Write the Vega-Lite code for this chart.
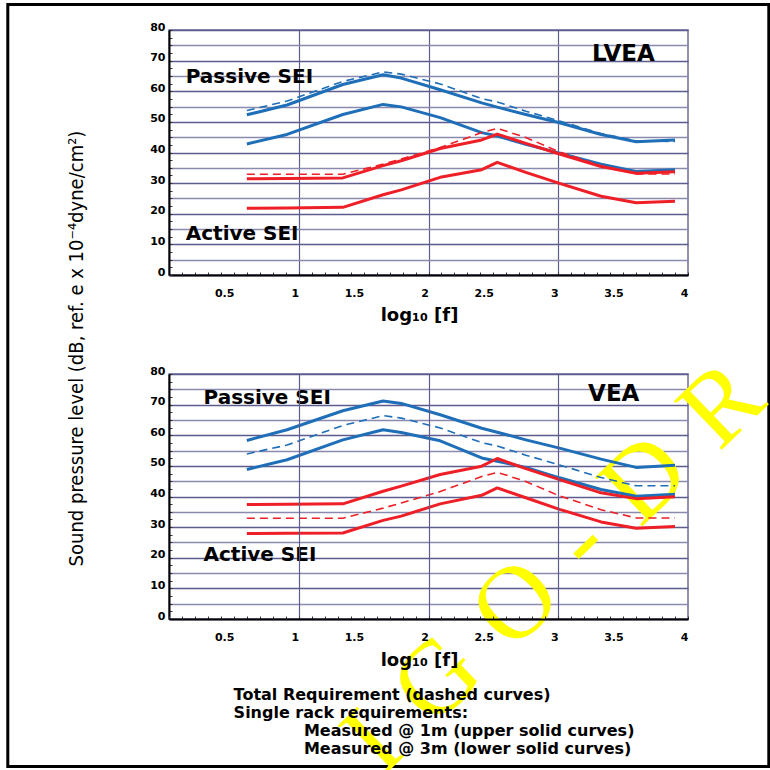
{
  "$schema": "https://vega.github.io/schema/vega-lite/v6.json",
  "background": "white",
  "padding": {"left": 5, "top": 2, "right": 0, "bottom": 0},
  "spacing": 99,
  "bounds": "flush",
  "config": {
    "view": {"stroke": "#6e6e9c", "strokeWidth": 1.5},
    "text": {"font": "DejaVu Sans"}
  },
  "datasets": {
    "lvea": [
      {"sei":"Passive","curve":"Total","logf":0.60,"spl":53.7},{"sei":"Passive","curve":"Total","logf":0.91,"spl":56.8},{"sei":"Passive","curve":"Total","logf":1.34,"spl":63.2},{"sei":"Passive","curve":"Total","logf":1.65,"spl":66.3},{"sei":"Passive","curve":"Total","logf":1.79,"spl":65.6},{"sei":"Passive","curve":"Total","logf":2.09,"spl":62.4},{"sei":"Passive","curve":"Total","logf":2.41,"spl":57.6},{"sei":"Passive","curve":"Total","logf":2.53,"spl":56.5},{"sei":"Passive","curve":"Total","logf":2.75,"spl":53.5},{"sei":"Passive","curve":"Total","logf":3.01,"spl":50.3},{"sei":"Passive","curve":"Total","logf":3.33,"spl":46.2},{"sei":"Passive","curve":"Total","logf":3.60,"spl":43.8},{"sei":"Passive","curve":"Total","logf":3.90,"spl":43.6},
      {"sei":"Passive","curve":"1 m","logf":0.60,"spl":52.3},{"sei":"Passive","curve":"1 m","logf":0.91,"spl":55.5},{"sei":"Passive","curve":"1 m","logf":1.34,"spl":62.2},{"sei":"Passive","curve":"1 m","logf":1.65,"spl":65.4},{"sei":"Passive","curve":"1 m","logf":1.79,"spl":64.3},{"sei":"Passive","curve":"1 m","logf":2.09,"spl":60.5},{"sei":"Passive","curve":"1 m","logf":2.41,"spl":56.2},{"sei":"Passive","curve":"1 m","logf":2.53,"spl":54.8},{"sei":"Passive","curve":"1 m","logf":2.75,"spl":52.4},{"sei":"Passive","curve":"1 m","logf":3.01,"spl":49.7},{"sei":"Passive","curve":"1 m","logf":3.33,"spl":45.9},{"sei":"Passive","curve":"1 m","logf":3.60,"spl":43.5},{"sei":"Passive","curve":"1 m","logf":3.90,"spl":44.1},
      {"sei":"Passive","curve":"3 m","logf":0.60,"spl":42.8},{"sei":"Passive","curve":"3 m","logf":0.91,"spl":45.9},{"sei":"Passive","curve":"3 m","logf":1.34,"spl":52.4},{"sei":"Passive","curve":"3 m","logf":1.65,"spl":55.7},{"sei":"Passive","curve":"3 m","logf":1.79,"spl":54.9},{"sei":"Passive","curve":"3 m","logf":2.09,"spl":51.4},{"sei":"Passive","curve":"3 m","logf":2.41,"spl":46.5},{"sei":"Passive","curve":"3 m","logf":2.53,"spl":45.4},{"sei":"Passive","curve":"3 m","logf":2.75,"spl":42.7},{"sei":"Passive","curve":"3 m","logf":3.01,"spl":39.8},{"sei":"Passive","curve":"3 m","logf":3.33,"spl":36.2},{"sei":"Passive","curve":"3 m","logf":3.60,"spl":33.8},{"sei":"Passive","curve":"3 m","logf":3.90,"spl":34.4},
      {"sei":"Active","curve":"Total","logf":0.60,"spl":32.9},{"sei":"Active","curve":"Total","logf":0.91,"spl":32.9},{"sei":"Active","curve":"Total","logf":1.34,"spl":32.9},{"sei":"Active","curve":"Total","logf":1.65,"spl":36.2},{"sei":"Active","curve":"Total","logf":1.79,"spl":37.9},{"sei":"Active","curve":"Total","logf":2.09,"spl":41.6},{"sei":"Active","curve":"Total","logf":2.41,"spl":46.5},{"sei":"Active","curve":"Total","logf":2.53,"spl":47.9},{"sei":"Active","curve":"Total","logf":2.75,"spl":44.9},{"sei":"Active","curve":"Total","logf":3.01,"spl":40.2},{"sei":"Active","curve":"Total","logf":3.33,"spl":35.7},{"sei":"Active","curve":"Total","logf":3.60,"spl":33.0},{"sei":"Active","curve":"Total","logf":3.90,"spl":33.0},
      {"sei":"Active","curve":"1 m","logf":0.60,"spl":31.4},{"sei":"Active","curve":"1 m","logf":0.91,"spl":31.5},{"sei":"Active","curve":"1 m","logf":1.34,"spl":31.7},{"sei":"Active","curve":"1 m","logf":1.65,"spl":35.7},{"sei":"Active","curve":"1 m","logf":1.79,"spl":37.3},{"sei":"Active","curve":"1 m","logf":2.09,"spl":41.3},{"sei":"Active","curve":"1 m","logf":2.41,"spl":44.1},{"sei":"Active","curve":"1 m","logf":2.53,"spl":46.0},{"sei":"Active","curve":"1 m","logf":2.75,"spl":43.0},{"sei":"Active","curve":"1 m","logf":3.01,"spl":39.5},{"sei":"Active","curve":"1 m","logf":3.33,"spl":35.4},{"sei":"Active","curve":"1 m","logf":3.60,"spl":33.2},{"sei":"Active","curve":"1 m","logf":3.90,"spl":33.7},
      {"sei":"Active","curve":"3 m","logf":0.60,"spl":21.8},{"sei":"Active","curve":"3 m","logf":0.91,"spl":21.9},{"sei":"Active","curve":"3 m","logf":1.34,"spl":22.1},{"sei":"Active","curve":"3 m","logf":1.65,"spl":26.2},{"sei":"Active","curve":"3 m","logf":1.79,"spl":27.8},{"sei":"Active","curve":"3 m","logf":2.09,"spl":31.9},{"sei":"Active","curve":"3 m","logf":2.41,"spl":34.4},{"sei":"Active","curve":"3 m","logf":2.53,"spl":36.8},{"sei":"Active","curve":"3 m","logf":2.75,"spl":33.5},{"sei":"Active","curve":"3 m","logf":3.01,"spl":29.9},{"sei":"Active","curve":"3 m","logf":3.33,"spl":25.7},{"sei":"Active","curve":"3 m","logf":3.60,"spl":23.6},{"sei":"Active","curve":"3 m","logf":3.90,"spl":24.1}
    ],
    "vea": [
      {"sei":"Passive","curve":"Total","logf":0.60,"spl":53.9},{"sei":"Passive","curve":"Total","logf":0.91,"spl":56.8},{"sei":"Passive","curve":"Total","logf":1.34,"spl":63.2},{"sei":"Passive","curve":"Total","logf":1.65,"spl":66.4},{"sei":"Passive","curve":"Total","logf":1.79,"spl":65.6},{"sei":"Passive","curve":"Total","logf":2.09,"spl":62.4},{"sei":"Passive","curve":"Total","logf":2.41,"spl":57.6},{"sei":"Passive","curve":"Total","logf":2.53,"spl":56.5},{"sei":"Passive","curve":"Total","logf":2.75,"spl":53.5},{"sei":"Passive","curve":"Total","logf":3.01,"spl":50.3},{"sei":"Passive","curve":"Total","logf":3.33,"spl":46.2},{"sei":"Passive","curve":"Total","logf":3.60,"spl":43.5},{"sei":"Passive","curve":"Total","logf":3.90,"spl":43.5},
      {"sei":"Passive","curve":"1 m","logf":0.60,"spl":58.3},{"sei":"Passive","curve":"1 m","logf":0.91,"spl":61.8},{"sei":"Passive","curve":"1 m","logf":1.34,"spl":68.0},{"sei":"Passive","curve":"1 m","logf":1.65,"spl":71.2},{"sei":"Passive","curve":"1 m","logf":1.79,"spl":70.4},{"sei":"Passive","curve":"1 m","logf":2.09,"spl":66.7},{"sei":"Passive","curve":"1 m","logf":2.41,"spl":62.3},{"sei":"Passive","curve":"1 m","logf":2.53,"spl":61.0},{"sei":"Passive","curve":"1 m","logf":2.75,"spl":58.5},{"sei":"Passive","curve":"1 m","logf":3.01,"spl":55.8},{"sei":"Passive","curve":"1 m","logf":3.33,"spl":52.2},{"sei":"Passive","curve":"1 m","logf":3.60,"spl":49.5},{"sei":"Passive","curve":"1 m","logf":3.90,"spl":50.2},
      {"sei":"Passive","curve":"3 m","logf":0.60,"spl":48.8},{"sei":"Passive","curve":"3 m","logf":0.91,"spl":52.0},{"sei":"Passive","curve":"3 m","logf":1.34,"spl":58.5},{"sei":"Passive","curve":"3 m","logf":1.65,"spl":61.8},{"sei":"Passive","curve":"3 m","logf":1.79,"spl":60.9},{"sei":"Passive","curve":"3 m","logf":2.09,"spl":58.2},{"sei":"Passive","curve":"3 m","logf":2.41,"spl":52.6},{"sei":"Passive","curve":"3 m","logf":2.53,"spl":51.5},{"sei":"Passive","curve":"3 m","logf":2.75,"spl":49.5},{"sei":"Passive","curve":"3 m","logf":3.01,"spl":46.1},{"sei":"Passive","curve":"3 m","logf":3.33,"spl":42.3},{"sei":"Passive","curve":"3 m","logf":3.60,"spl":40.1},{"sei":"Passive","curve":"3 m","logf":3.90,"spl":40.7},
      {"sei":"Active","curve":"Total","logf":0.60,"spl":32.9},{"sei":"Active","curve":"Total","logf":0.91,"spl":32.9},{"sei":"Active","curve":"Total","logf":1.34,"spl":32.9},{"sei":"Active","curve":"Total","logf":1.65,"spl":36.2},{"sei":"Active","curve":"Total","logf":1.79,"spl":37.9},{"sei":"Active","curve":"Total","logf":2.09,"spl":41.6},{"sei":"Active","curve":"Total","logf":2.41,"spl":46.5},{"sei":"Active","curve":"Total","logf":2.53,"spl":47.9},{"sei":"Active","curve":"Total","logf":2.75,"spl":44.9},{"sei":"Active","curve":"Total","logf":3.01,"spl":40.2},{"sei":"Active","curve":"Total","logf":3.33,"spl":35.7},{"sei":"Active","curve":"Total","logf":3.60,"spl":33.0},{"sei":"Active","curve":"Total","logf":3.90,"spl":33.0},
      {"sei":"Active","curve":"1 m","logf":0.60,"spl":37.4},{"sei":"Active","curve":"1 m","logf":0.91,"spl":37.5},{"sei":"Active","curve":"1 m","logf":1.34,"spl":37.6},{"sei":"Active","curve":"1 m","logf":1.65,"spl":41.7},{"sei":"Active","curve":"1 m","logf":1.79,"spl":43.4},{"sei":"Active","curve":"1 m","logf":2.09,"spl":47.2},{"sei":"Active","curve":"1 m","logf":2.41,"spl":49.9},{"sei":"Active","curve":"1 m","logf":2.53,"spl":52.4},{"sei":"Active","curve":"1 m","logf":2.75,"spl":49.1},{"sei":"Active","curve":"1 m","logf":3.01,"spl":45.5},{"sei":"Active","curve":"1 m","logf":3.33,"spl":41.2},{"sei":"Active","curve":"1 m","logf":3.60,"spl":39.3},{"sei":"Active","curve":"1 m","logf":3.90,"spl":39.9},
      {"sei":"Active","curve":"3 m","logf":0.60,"spl":27.9},{"sei":"Active","curve":"3 m","logf":0.91,"spl":28.0},{"sei":"Active","curve":"3 m","logf":1.34,"spl":28.1},{"sei":"Active","curve":"3 m","logf":1.65,"spl":32.2},{"sei":"Active","curve":"3 m","logf":1.79,"spl":33.6},{"sei":"Active","curve":"3 m","logf":2.09,"spl":37.6},{"sei":"Active","curve":"3 m","logf":2.41,"spl":40.4},{"sei":"Active","curve":"3 m","logf":2.53,"spl":42.8},{"sei":"Active","curve":"3 m","logf":2.75,"spl":39.6},{"sei":"Active","curve":"3 m","logf":3.01,"spl":35.8},{"sei":"Active","curve":"3 m","logf":3.33,"spl":31.7},{"sei":"Active","curve":"3 m","logf":3.60,"spl":29.6},{"sei":"Active","curve":"3 m","logf":3.90,"spl":30.2}
    ],
    "top_labels": [
      {"label":"Passive SEI","logf":0.129,"spl":62.7},
      {"label":"Active SEI","logf":0.129,"spl":11.4}
    ],
    "top_area": [{"label":"LVEA","logf":3.26,"spl":69.9}],
    "bottom_labels": [
      {"label":"Passive SEI","logf":0.266,"spl":70.1},
      {"label":"Active SEI","logf":0.266,"spl":19.0}
    ],
    "bottom_area": [{"label":"VEA","logf":3.23,"spl":71.2}],
    "notes": [
      {"label":"Total Requirement (dashed curves)","logf":0.498,"spl":-26.5},
      {"label":"Single rack requirements:","logf":0.498,"spl":-32.4}
    ],
    "notes_indented": [
      {"label":"Measured @ 1m (upper solid curves)","logf":1.04,"spl":-38.2},
      {"label":"Measured @ 3m (lower solid curves)","logf":1.04,"spl":-44.0}
    ],
    "watermark": [{"label":"I\u2004G\u2004O\u2004-\u2004D\u2004R","logf":2.968,"spl":16.55}]
  },
  "vconcat": [
    {
      "width": 519,
      "height": 245,
      "layer": [
        {
          "data": {"values": [{}]},
          "mark": {"type": "rect", "fill": "white", "fillOpacity": 0, "stroke": "black", "strokeWidth": 3},
          "encoding": {
            "x": {"datum": -1.2424, "type": "quantitative", "scale": {"domain": [0, 4], "nice": false, "zero": false}},
            "x2": {"datum": 4.6227},
            "y": {"datum": 88.33, "type": "quantitative", "scale": {"domain": [0, 80], "nice": false}},
            "y2": {"datum": -160.5}
          }
        },
        {
          "data": {"name": "lvea"},
          "transform": [{"filter": "datum.curve != 'Total'"}],
          "mark": {"type": "line", "strokeWidth": 3, "strokeJoin": "round"},
          "encoding": {
            "x": {
              "field": "logf", "type": "quantitative",
              "scale": {"domain": [0, 4], "nice": false, "zero": false},
              "axis": {
                "tickCount": 500,
                "values": [0,0.1,0.2,0.3,0.4,0.5,0.6,0.7,0.8,0.9,1,1.1,1.2,1.3,1.4,1.5,1.6,1.7,1.8,1.9,2,2.1,2.2,2.3,2.4,2.5,2.6,2.7,2.8,2.9,3,3.1,3.2,3.3,3.4,3.5,3.6,3.7,3.8,3.9,4],
                "labelExpr": "datum.value > 0.25 && abs(datum.value * 2 - round(datum.value * 2)) < 0.001 ? format(datum.value, '~g') : ''",
                "labelAlign": "right", "labelBaseline": "top", "labelPadding": 15,
                "labelOverlap": false, "labelFlush": false, "labelBound": false,
                "labelFont": "DejaVu Sans", "labelFontWeight": "bold", "labelFontSize": 11, "labelColor": "black",
                "tickSize": -3, "tickColor": "#333333", "tickWidth": 1,
                "domainColor": "black", "domainWidth": 2,
                "grid": true, "gridColor": "#5c5c8e", "gridWidth": 1.2,
                "gridOpacity": {"condition": {"test": "datum.value > 0.5 && datum.value < 3.5 && abs(datum.value - round(datum.value)) < 0.001", "value": 1}, "value": 0},
                "title": "log₁₀ [f]", "titleFont": "DejaVu Sans", "titleFontSize": 18, "titleFontWeight": "bold", "titleColor": "black",
                "titleX": 250, "titleY": 45, "titleAlign": "center", "titleBaseline": "alphabetic"
              }
            },
            "y": {
              "field": "spl", "type": "quantitative",
              "scale": {"domain": [0, 80], "nice": false},
              "axis": {
                "tickCount": 500,
                "values": [0,2.5,5,7.5,10,12.5,15,17.5,20,22.5,25,27.5,30,32.5,35,37.5,40,42.5,45,47.5,50,52.5,55,57.5,60,62.5,65,67.5,70,72.5,75,77.5,80],
                "labelExpr": "abs(datum.value / 10 - round(datum.value / 10)) < 0.001 ? format(datum.value, '~g') : ''",
                "labelAlign": "right", "labelBaseline": "alphabetic", "labelPadding": 7,
                "labelOverlap": false, "labelFlush": false, "labelBound": false,
                "labelFont": "DejaVu Sans", "labelFontWeight": "bold", "labelFontSize": 11, "labelColor": "black",
                "tickSize": -3, "tickColor": "#333333", "tickWidth": 1,
                "domainColor": "black", "domainWidth": 2,
                "grid": true, "gridWidth": 1.3,
                "gridColor": {"condition": {"test": "abs(datum.value / 10 - round(datum.value / 10)) < 0.001", "value": "#5c5c8e"}, "value": "#8a8ab0"},
                "gridOpacity": {"condition": {"test": "abs(datum.value / 5 - round(datum.value / 5)) < 0.001", "value": 1}, "value": 0},
                "title": "Sound pressure level (dB, ref. e x 10⁻⁴dyne/cm²)",
                "titleFont": "Liberation Sans Narrow, DejaVu Sans Condensed, sans-serif", "titleFontSize": 20, "titleFontWeight": "normal", "titleColor": "black",
                "titleX": -92.7, "titleY": 318, "titleAngle": 270, "titleAlign": "center", "titleBaseline": "middle"
              }
            },
            "color": {"field": "sei", "type": "nominal", "scale": {"domain": ["Passive", "Active"], "range": ["#1f6fb8", "#ee1f26"]}, "legend": null},
            "detail": {"field": "curve"}
          }
        },
        {
          "data": {"name": "lvea"},
          "transform": [{"filter": "datum.curve == 'Total'"}],
          "mark": {"type": "line", "strokeWidth": 1.6, "strokeDash": [8, 5]},
          "encoding": {
            "x": {"field": "logf", "type": "quantitative"},
            "y": {"field": "spl", "type": "quantitative"},
            "color": {"field": "sei", "type": "nominal", "legend": null},
            "detail": {"field": "curve"}
          }
        },
        {
          "data": {"name": "top_labels"},
          "mark": {"type": "text", "align": "left", "baseline": "alphabetic", "font": "DejaVu Sans", "fontWeight": "bold", "fontSize": 20, "color": "black"},
          "encoding": {
            "x": {"field": "logf", "type": "quantitative"},
            "y": {"field": "spl", "type": "quantitative"},
            "text": {"field": "label"}
          }
        },
        {
          "data": {"name": "top_area"},
          "mark": {"type": "text", "align": "left", "baseline": "alphabetic", "font": "DejaVu Sans", "fontWeight": "bold", "fontSize": 23, "color": "black"},
          "encoding": {
            "x": {"field": "logf", "type": "quantitative"},
            "y": {"field": "spl", "type": "quantitative"},
            "text": {"field": "label"}
          }
        }
      ]
    },
    {
      "width": 519,
      "height": 245,
      "layer": [
        {
          "data": {"name": "watermark"},
          "mark": {"type": "text", "align": "center", "baseline": "middle", "font": "Liberation Serif", "fontSize": 104, "angle": 316, "color": "#ffff00"},
          "encoding": {
            "x": {"field": "logf", "type": "quantitative", "scale": {"domain": [0, 4], "nice": false, "zero": false}},
            "y": {"field": "spl", "type": "quantitative", "scale": {"domain": [0, 80], "nice": false}},
            "text": {"field": "label"}
          }
        },
        {
          "data": {"name": "vea"},
          "transform": [{"filter": "datum.curve != 'Total'"}],
          "mark": {"type": "line", "strokeWidth": 3, "strokeJoin": "round"},
          "encoding": {
            "x": {
              "field": "logf", "type": "quantitative",
              "scale": {"domain": [0, 4], "nice": false, "zero": false},
              "axis": {
                "zindex": 1,
                "tickCount": 500,
                "values": [0,0.1,0.2,0.3,0.4,0.5,0.6,0.7,0.8,0.9,1,1.1,1.2,1.3,1.4,1.5,1.6,1.7,1.8,1.9,2,2.1,2.2,2.3,2.4,2.5,2.6,2.7,2.8,2.9,3,3.1,3.2,3.3,3.4,3.5,3.6,3.7,3.8,3.9,4],
                "labelExpr": "datum.value > 0.25 && abs(datum.value * 2 - round(datum.value * 2)) < 0.001 ? format(datum.value, '~g') : ''",
                "labelAlign": "right", "labelBaseline": "top", "labelPadding": 15,
                "labelOverlap": false, "labelFlush": false, "labelBound": false,
                "labelFont": "DejaVu Sans", "labelFontWeight": "bold", "labelFontSize": 11, "labelColor": "black",
                "tickSize": -3, "tickColor": "#333333", "tickWidth": 1,
                "domainColor": "black", "domainWidth": 2,
                "grid": true, "gridColor": "#5c5c8e", "gridWidth": 1.2,
                "gridOpacity": {"condition": {"test": "datum.value > 0.5 && datum.value < 3.5 && abs(datum.value - round(datum.value)) < 0.001", "value": 1}, "value": 0},
                "title": "log₁₀ [f]", "titleFont": "DejaVu Sans", "titleFontSize": 18, "titleFontWeight": "bold", "titleColor": "black",
                "titleX": 250, "titleY": 46, "titleAlign": "center", "titleBaseline": "alphabetic"
              }
            },
            "y": {
              "field": "spl", "type": "quantitative",
              "scale": {"domain": [0, 80], "nice": false},
              "axis": {
                "tickCount": 500,
                "values": [0,2.5,5,7.5,10,12.5,15,17.5,20,22.5,25,27.5,30,32.5,35,37.5,40,42.5,45,47.5,50,52.5,55,57.5,60,62.5,65,67.5,70,72.5,75,77.5,80],
                "labelExpr": "abs(datum.value / 10 - round(datum.value / 10)) < 0.001 ? format(datum.value, '~g') : ''",
                "labelAlign": "right", "labelBaseline": "alphabetic", "labelPadding": 7,
                "labelOverlap": false, "labelFlush": false, "labelBound": false,
                "labelFont": "DejaVu Sans", "labelFontWeight": "bold", "labelFontSize": 11, "labelColor": "black",
                "tickSize": -3, "tickColor": "#333333", "tickWidth": 1,
                "domainColor": "black", "domainWidth": 2,
                "grid": true, "gridWidth": 1.3,
                "gridColor": {"condition": {"test": "abs(datum.value / 10 - round(datum.value / 10)) < 0.001", "value": "#5c5c8e"}, "value": "#8a8ab0"},
                "gridOpacity": {"condition": {"test": "abs(datum.value / 5 - round(datum.value / 5)) < 0.001", "value": 1}, "value": 0},
                "title": null
              }
            },
            "color": {"field": "sei", "type": "nominal", "scale": {"domain": ["Passive", "Active"], "range": ["#1f6fb8", "#ee1f26"]}, "legend": null},
            "detail": {"field": "curve"}
          }
        },
        {
          "data": {"name": "vea"},
          "transform": [{"filter": "datum.curve == 'Total'"}],
          "mark": {"type": "line", "strokeWidth": 1.6, "strokeDash": [8, 5]},
          "encoding": {
            "x": {"field": "logf", "type": "quantitative"},
            "y": {"field": "spl", "type": "quantitative"},
            "color": {"field": "sei", "type": "nominal", "legend": null},
            "detail": {"field": "curve"}
          }
        },
        {
          "data": {"name": "bottom_labels"},
          "mark": {"type": "text", "align": "left", "baseline": "alphabetic", "font": "DejaVu Sans", "fontWeight": "bold", "fontSize": 20, "color": "black"},
          "encoding": {
            "x": {"field": "logf", "type": "quantitative"},
            "y": {"field": "spl", "type": "quantitative"},
            "text": {"field": "label"}
          }
        },
        {
          "data": {"name": "bottom_area"},
          "mark": {"type": "text", "align": "left", "baseline": "alphabetic", "font": "DejaVu Sans", "fontWeight": "bold", "fontSize": 23, "color": "black"},
          "encoding": {
            "x": {"field": "logf", "type": "quantitative"},
            "y": {"field": "spl", "type": "quantitative"},
            "text": {"field": "label"}
          }
        },
        {
          "data": {"name": "notes"},
          "mark": {"type": "text", "align": "left", "baseline": "alphabetic", "font": "DejaVu Sans", "fontWeight": "bold", "fontSize": 16, "color": "black"},
          "encoding": {
            "x": {"field": "logf", "type": "quantitative"},
            "y": {"field": "spl", "type": "quantitative"},
            "text": {"field": "label"}
          }
        },
        {
          "data": {"name": "notes_indented"},
          "mark": {"type": "text", "align": "left", "baseline": "alphabetic", "font": "DejaVu Sans", "fontWeight": "bold", "fontSize": 16, "color": "black"},
          "encoding": {
            "x": {"field": "logf", "type": "quantitative"},
            "y": {"field": "spl", "type": "quantitative"},
            "text": {"field": "label"}
          }
        }
      ]
    }
  ]
}
